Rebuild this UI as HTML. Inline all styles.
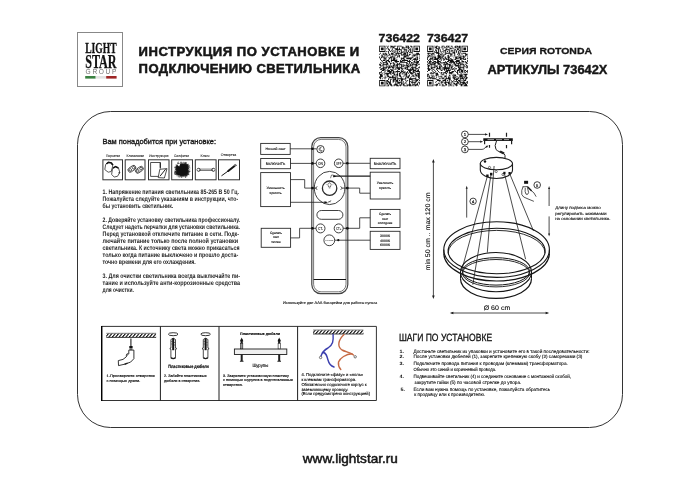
<!DOCTYPE html>
<html><head><meta charset="utf-8">
<style>
html,body{margin:0;padding:0;background:#fff;}
body{width:700px;height:494px;position:relative;overflow:hidden;font-family:"Liberation Sans",sans-serif;color:#1a1a1a;}
svg{position:absolute;left:0;top:0;}

</style></head><body>
<svg width="700" height="494" viewBox="0 0 700 494" font-family="Liberation Sans, sans-serif" style="will-change:transform">
<!-- ===== LOGO ===== -->
<g id="logo">
<rect x="77.5" y="32.5" width="45" height="54" fill="none" stroke="#888" stroke-width="1"/>
<text x="85.2" y="52.5" font-family="Liberation Serif" font-weight="bold" font-size="15.3" textLength="31.4" lengthAdjust="spacingAndGlyphs" fill="#111" stroke="#111" stroke-width="0.3">LIGHT</text>
<text x="85.2" y="67.5" font-family="Liberation Serif" font-weight="bold" font-size="19" textLength="31.4" lengthAdjust="spacingAndGlyphs" fill="#111" stroke="#111" stroke-width="0.25">STAR</text>
<text x="85.6" y="73.8" font-size="6.6" textLength="30.8" lengthAdjust="spacing" fill="#6f6f6f">GROUP</text>
<rect x="85.2" y="76" width="10.5" height="2.6" fill="#3b8242"/>
<rect x="95.7" y="76" width="10.5" height="2.6" fill="#e2e2e2"/>
<rect x="106.2" y="76" width="10.4" height="2.6" fill="#9e2626"/>
</g>
<!-- ===== HEADER ===== -->
<g font-weight="bold" fill="#161616">
<g transform="translate(138.6 0) scale(1.09 1)">
<text x="0" y="56.4" font-size="12" textLength="202.4" lengthAdjust="spacing" stroke="#161616" stroke-width="0.5">ИНСТРУКЦИЯ ПО УСТАНОВКЕ И</text>
<text x="0" y="72.7" font-size="12" textLength="203.3" lengthAdjust="spacing" stroke="#161616" stroke-width="0.5">ПОДКЛЮЧЕНИЮ СВЕТИЛЬНИКА</text>
</g>
<text x="378.6" y="41.5" font-size="11.5" stroke="#161616" stroke-width="0.35" textLength="41.4" lengthAdjust="spacingAndGlyphs">736422</text>
<text x="426.9" y="41.5" font-size="11.5" stroke="#161616" stroke-width="0.35" textLength="41.3" lengthAdjust="spacingAndGlyphs">736427</text>
<text x="500" y="53.6" font-size="9.3" stroke="#161616" stroke-width="0.3" textLength="92" lengthAdjust="spacingAndGlyphs">СЕРИЯ ROTONDA</text>
<text x="487.6" y="73.5" font-size="12.2" stroke="#161616" stroke-width="0.4" textLength="119.8" lengthAdjust="spacingAndGlyphs">АРТИКУЛЫ 73642X</text>
</g>
<svg x="379.1" y="45.6" width="40.8" height="40.8" viewBox="0 0 45 45" preserveAspectRatio="none"><path d="M0 0h7v1h-7zM8 0h1v1h-1zM10 0h1v1h-1zM12 0h3v1h-3zM16 0h3v1h-3zM20 0h5v1h-5zM29 0h4v1h-4zM34 0h2v1h-2zM38 0h7v1h-7zM0 1h1v1h-1zM6 1h1v1h-1zM9 1h1v1h-1zM13 1h4v1h-4zM20 1h1v1h-1zM25 1h2v1h-2zM30 1h1v1h-1zM32 1h1v1h-1zM35 1h2v1h-2zM38 1h1v1h-1zM44 1h1v1h-1zM0 2h1v1h-1zM2 2h3v1h-3zM6 2h1v1h-1zM9 2h1v1h-1zM12 2h1v1h-1zM15 2h2v1h-2zM20 2h1v1h-1zM22 2h1v1h-1zM25 2h9v1h-9zM38 2h1v1h-1zM40 2h3v1h-3zM44 2h1v1h-1zM0 3h1v1h-1zM2 3h3v1h-3zM6 3h1v1h-1zM8 3h1v1h-1zM10 3h1v1h-1zM14 3h1v1h-1zM17 3h4v1h-4zM22 3h1v1h-1zM25 3h1v1h-1zM27 3h1v1h-1zM32 3h1v1h-1zM34 3h1v1h-1zM36 3h1v1h-1zM38 3h1v1h-1zM40 3h3v1h-3zM44 3h1v1h-1zM0 4h1v1h-1zM2 4h3v1h-3zM6 4h1v1h-1zM10 4h2v1h-2zM14 4h1v1h-1zM18 4h7v1h-7zM27 4h4v1h-4zM33 4h2v1h-2zM36 4h1v1h-1zM38 4h1v1h-1zM40 4h3v1h-3zM44 4h1v1h-1zM0 5h1v1h-1zM6 5h1v1h-1zM11 5h1v1h-1zM13 5h1v1h-1zM15 5h1v1h-1zM17 5h1v1h-1zM20 5h1v1h-1zM24 5h1v1h-1zM28 5h1v1h-1zM30 5h1v1h-1zM32 5h1v1h-1zM34 5h1v1h-1zM36 5h1v1h-1zM38 5h1v1h-1zM44 5h1v1h-1zM0 6h7v1h-7zM8 6h1v1h-1zM10 6h1v1h-1zM12 6h1v1h-1zM14 6h1v1h-1zM16 6h1v1h-1zM18 6h1v1h-1zM20 6h1v1h-1zM22 6h1v1h-1zM24 6h1v1h-1zM26 6h1v1h-1zM28 6h1v1h-1zM30 6h1v1h-1zM32 6h1v1h-1zM34 6h1v1h-1zM36 6h1v1h-1zM38 6h7v1h-7zM10 7h1v1h-1zM16 7h2v1h-2zM20 7h1v1h-1zM24 7h3v1h-3zM28 7h1v1h-1zM30 7h2v1h-2zM33 7h4v1h-4zM1 8h1v1h-1zM4 8h1v1h-1zM6 8h2v1h-2zM10 8h1v1h-1zM13 8h3v1h-3zM18 8h7v1h-7zM27 8h3v1h-3zM31 8h1v1h-1zM36 8h1v1h-1zM41 8h3v1h-3zM0 9h1v1h-1zM4 9h2v1h-2zM7 9h2v1h-2zM11 9h1v1h-1zM13 9h3v1h-3zM17 9h1v1h-1zM19 9h1v1h-1zM21 9h1v1h-1zM24 9h1v1h-1zM26 9h4v1h-4zM31 9h1v1h-1zM33 9h2v1h-2zM38 9h1v1h-1zM40 9h5v1h-5zM2 10h2v1h-2zM5 10h4v1h-4zM10 10h3v1h-3zM15 10h1v1h-1zM17 10h3v1h-3zM22 10h1v1h-1zM24 10h3v1h-3zM28 10h1v1h-1zM30 10h2v1h-2zM33 10h1v1h-1zM36 10h5v1h-5zM42 10h1v1h-1zM44 10h1v1h-1zM3 11h1v1h-1zM9 11h1v1h-1zM14 11h1v1h-1zM17 11h1v1h-1zM20 11h3v1h-3zM27 11h6v1h-6zM38 11h2v1h-2zM41 11h1v1h-1zM0 12h1v1h-1zM2 12h5v1h-5zM8 12h1v1h-1zM12 12h5v1h-5zM20 12h1v1h-1zM22 12h1v1h-1zM27 12h3v1h-3zM36 12h2v1h-2zM42 12h1v1h-1zM44 12h1v1h-1zM0 13h1v1h-1zM2 13h1v1h-1zM5 13h1v1h-1zM7 13h1v1h-1zM10 13h4v1h-4zM16 13h2v1h-2zM19 13h1v1h-1zM24 13h1v1h-1zM26 13h2v1h-2zM30 13h7v1h-7zM40 13h3v1h-3zM1 14h1v1h-1zM5 14h3v1h-3zM11 14h1v1h-1zM13 14h1v1h-1zM15 14h3v1h-3zM24 14h4v1h-4zM30 14h6v1h-6zM38 14h3v1h-3zM42 14h1v1h-1zM44 14h1v1h-1zM1 15h1v1h-1zM5 15h1v1h-1zM7 15h1v1h-1zM10 15h1v1h-1zM13 15h1v1h-1zM15 15h3v1h-3zM19 15h1v1h-1zM24 15h1v1h-1zM27 15h2v1h-2zM34 15h1v1h-1zM37 15h6v1h-6zM2 16h1v1h-1zM4 16h3v1h-3zM8 16h3v1h-3zM13 16h7v1h-7zM23 16h1v1h-1zM25 16h7v1h-7zM33 16h1v1h-1zM36 16h1v1h-1zM39 16h1v1h-1zM41 16h1v1h-1zM44 16h1v1h-1zM3 17h1v1h-1zM7 17h2v1h-2zM10 17h2v1h-2zM13 17h1v1h-1zM17 17h5v1h-5zM23 17h3v1h-3zM27 17h1v1h-1zM31 17h4v1h-4zM38 17h2v1h-2zM41 17h3v1h-3zM1 18h1v1h-1zM4 18h5v1h-5zM11 18h1v1h-1zM15 18h1v1h-1zM18 18h2v1h-2zM23 18h8v1h-8zM33 18h1v1h-1zM35 18h2v1h-2zM38 18h6v1h-6zM2 19h1v1h-1zM4 19h1v1h-1zM8 19h2v1h-2zM12 19h2v1h-2zM15 19h2v1h-2zM20 19h1v1h-1zM22 19h1v1h-1zM30 19h2v1h-2zM33 19h1v1h-1zM35 19h1v1h-1zM37 19h1v1h-1zM41 19h2v1h-2zM0 20h2v1h-2zM4 20h6v1h-6zM12 20h1v1h-1zM16 20h2v1h-2zM19 20h6v1h-6zM26 20h1v1h-1zM30 20h1v1h-1zM32 20h1v1h-1zM34 20h1v1h-1zM36 20h6v1h-6zM43 20h2v1h-2zM0 21h2v1h-2zM3 21h2v1h-2zM8 21h1v1h-1zM10 21h1v1h-1zM15 21h2v1h-2zM19 21h2v1h-2zM24 21h2v1h-2zM27 21h2v1h-2zM30 21h2v1h-2zM33 21h4v1h-4zM40 21h3v1h-3zM1 22h2v1h-2zM4 22h1v1h-1zM6 22h1v1h-1zM8 22h1v1h-1zM11 22h3v1h-3zM15 22h6v1h-6zM22 22h1v1h-1zM24 22h1v1h-1zM26 22h2v1h-2zM29 22h4v1h-4zM34 22h1v1h-1zM36 22h1v1h-1zM38 22h1v1h-1zM40 22h2v1h-2zM4 23h1v1h-1zM8 23h4v1h-4zM13 23h3v1h-3zM20 23h1v1h-1zM24 23h3v1h-3zM31 23h3v1h-3zM36 23h1v1h-1zM40 23h1v1h-1zM44 23h1v1h-1zM0 24h2v1h-2zM4 24h5v1h-5zM10 24h3v1h-3zM14 24h3v1h-3zM18 24h7v1h-7zM28 24h4v1h-4zM35 24h6v1h-6zM43 24h2v1h-2zM2 25h4v1h-4zM7 25h1v1h-1zM10 25h1v1h-1zM15 25h1v1h-1zM18 25h1v1h-1zM20 25h3v1h-3zM24 25h3v1h-3zM28 25h2v1h-2zM31 25h1v1h-1zM34 25h1v1h-1zM36 25h2v1h-2zM40 25h3v1h-3zM1 26h2v1h-2zM4 26h3v1h-3zM9 26h1v1h-1zM12 26h3v1h-3zM16 26h1v1h-1zM18 26h1v1h-1zM21 26h2v1h-2zM25 26h1v1h-1zM30 26h9v1h-9zM40 26h1v1h-1zM43 26h1v1h-1zM3 27h3v1h-3zM7 27h1v1h-1zM9 27h3v1h-3zM13 27h3v1h-3zM20 27h1v1h-1zM24 27h1v1h-1zM26 27h1v1h-1zM32 27h4v1h-4zM37 27h4v1h-4zM42 27h2v1h-2zM2 28h1v1h-1zM6 28h1v1h-1zM9 28h5v1h-5zM15 28h2v1h-2zM18 28h5v1h-5zM24 28h3v1h-3zM28 28h1v1h-1zM31 28h1v1h-1zM33 28h2v1h-2zM37 28h2v1h-2zM40 28h5v1h-5zM0 29h3v1h-3zM5 29h1v1h-1zM11 29h3v1h-3zM15 29h2v1h-2zM18 29h1v1h-1zM20 29h1v1h-1zM23 29h2v1h-2zM26 29h3v1h-3zM30 29h2v1h-2zM33 29h3v1h-3zM37 29h3v1h-3zM44 29h1v1h-1zM0 30h1v1h-1zM3 30h1v1h-1zM6 30h7v1h-7zM14 30h3v1h-3zM20 30h1v1h-1zM22 30h2v1h-2zM25 30h1v1h-1zM27 30h1v1h-1zM29 30h2v1h-2zM32 30h1v1h-1zM34 30h4v1h-4zM40 30h1v1h-1zM42 30h3v1h-3zM0 31h3v1h-3zM5 31h1v1h-1zM8 31h3v1h-3zM12 31h2v1h-2zM16 31h2v1h-2zM19 31h2v1h-2zM22 31h1v1h-1zM25 31h1v1h-1zM27 31h1v1h-1zM29 31h2v1h-2zM35 31h2v1h-2zM39 31h2v1h-2zM42 31h3v1h-3zM1 32h3v1h-3zM6 32h1v1h-1zM8 32h2v1h-2zM16 32h2v1h-2zM19 32h2v1h-2zM22 32h2v1h-2zM28 32h3v1h-3zM33 32h1v1h-1zM37 32h1v1h-1zM40 32h2v1h-2zM43 32h2v1h-2zM1 33h3v1h-3zM9 33h2v1h-2zM14 33h2v1h-2zM18 33h1v1h-1zM20 33h1v1h-1zM22 33h2v1h-2zM27 33h1v1h-1zM30 33h1v1h-1zM32 33h2v1h-2zM36 33h3v1h-3zM40 33h5v1h-5zM0 34h4v1h-4zM6 34h2v1h-2zM9 34h4v1h-4zM14 34h2v1h-2zM17 34h1v1h-1zM19 34h1v1h-1zM23 34h2v1h-2zM26 34h1v1h-1zM29 34h4v1h-4zM35 34h1v1h-1zM38 34h1v1h-1zM43 34h2v1h-2zM0 35h2v1h-2zM5 35h1v1h-1zM7 35h1v1h-1zM11 35h8v1h-8zM20 35h1v1h-1zM24 35h1v1h-1zM29 35h1v1h-1zM31 35h2v1h-2zM34 35h1v1h-1zM40 35h1v1h-1zM43 35h2v1h-2zM1 36h1v1h-1zM3 36h1v1h-1zM6 36h1v1h-1zM10 36h1v1h-1zM15 36h1v1h-1zM17 36h2v1h-2zM20 36h7v1h-7zM28 36h2v1h-2zM33 36h8v1h-8zM44 36h1v1h-1zM10 37h1v1h-1zM12 37h2v1h-2zM15 37h4v1h-4zM20 37h1v1h-1zM24 37h3v1h-3zM28 37h1v1h-1zM33 37h4v1h-4zM40 37h4v1h-4zM0 38h7v1h-7zM8 38h2v1h-2zM12 38h1v1h-1zM15 38h2v1h-2zM18 38h3v1h-3zM22 38h1v1h-1zM24 38h2v1h-2zM29 38h1v1h-1zM31 38h1v1h-1zM33 38h1v1h-1zM36 38h1v1h-1zM38 38h1v1h-1zM40 38h3v1h-3zM44 38h1v1h-1zM0 39h1v1h-1zM6 39h1v1h-1zM8 39h3v1h-3zM12 39h1v1h-1zM15 39h2v1h-2zM18 39h3v1h-3zM24 39h1v1h-1zM26 39h1v1h-1zM30 39h1v1h-1zM33 39h2v1h-2zM36 39h1v1h-1zM40 39h2v1h-2zM0 40h1v1h-1zM2 40h3v1h-3zM6 40h1v1h-1zM8 40h1v1h-1zM10 40h3v1h-3zM15 40h1v1h-1zM18 40h1v1h-1zM20 40h5v1h-5zM26 40h1v1h-1zM29 40h1v1h-1zM33 40h1v1h-1zM35 40h6v1h-6zM43 40h2v1h-2zM0 41h1v1h-1zM2 41h3v1h-3zM6 41h1v1h-1zM8 41h2v1h-2zM11 41h2v1h-2zM18 41h1v1h-1zM20 41h3v1h-3zM24 41h2v1h-2zM27 41h1v1h-1zM29 41h1v1h-1zM33 41h1v1h-1zM36 41h1v1h-1zM39 41h1v1h-1zM42 41h1v1h-1zM44 41h1v1h-1zM0 42h1v1h-1zM2 42h3v1h-3zM6 42h1v1h-1zM8 42h2v1h-2zM11 42h3v1h-3zM17 42h3v1h-3zM24 42h1v1h-1zM26 42h2v1h-2zM30 42h1v1h-1zM33 42h2v1h-2zM37 42h3v1h-3zM41 42h2v1h-2zM44 42h1v1h-1zM0 43h1v1h-1zM6 43h1v1h-1zM10 43h1v1h-1zM12 43h2v1h-2zM16 43h5v1h-5zM22 43h3v1h-3zM26 43h2v1h-2zM31 43h4v1h-4zM36 43h2v1h-2zM39 43h4v1h-4zM0 44h7v1h-7zM8 44h3v1h-3zM13 44h2v1h-2zM16 44h1v1h-1zM19 44h3v1h-3zM23 44h1v1h-1zM27 44h5v1h-5zM33 44h3v1h-3zM37 44h1v1h-1zM39 44h2v1h-2zM43 44h1v1h-1z" fill="#111"/></svg>
<svg x="427.1" y="45.6" width="40.8" height="40.8" viewBox="0 0 45 45" preserveAspectRatio="none"><path d="M0 0h7v1h-7zM8 0h1v1h-1zM10 0h2v1h-2zM16 0h3v1h-3zM21 0h4v1h-4zM26 0h2v1h-2zM31 0h3v1h-3zM35 0h2v1h-2zM38 0h7v1h-7zM0 1h1v1h-1zM6 1h1v1h-1zM9 1h2v1h-2zM12 1h2v1h-2zM16 1h1v1h-1zM19 1h1v1h-1zM21 1h1v1h-1zM23 1h1v1h-1zM27 1h1v1h-1zM30 1h2v1h-2zM33 1h4v1h-4zM38 1h1v1h-1zM44 1h1v1h-1zM0 2h1v1h-1zM2 2h3v1h-3zM6 2h1v1h-1zM8 2h3v1h-3zM13 2h1v1h-1zM15 2h1v1h-1zM17 2h1v1h-1zM19 2h2v1h-2zM22 2h1v1h-1zM24 2h2v1h-2zM28 2h1v1h-1zM31 2h2v1h-2zM35 2h2v1h-2zM38 2h1v1h-1zM40 2h3v1h-3zM44 2h1v1h-1zM0 3h1v1h-1zM2 3h3v1h-3zM6 3h1v1h-1zM10 3h4v1h-4zM17 3h1v1h-1zM21 3h1v1h-1zM25 3h3v1h-3zM29 3h1v1h-1zM33 3h2v1h-2zM36 3h1v1h-1zM38 3h1v1h-1zM40 3h3v1h-3zM44 3h1v1h-1zM0 4h1v1h-1zM2 4h3v1h-3zM6 4h1v1h-1zM9 4h1v1h-1zM12 4h1v1h-1zM14 4h1v1h-1zM17 4h1v1h-1zM20 4h5v1h-5zM30 4h2v1h-2zM33 4h2v1h-2zM36 4h1v1h-1zM38 4h1v1h-1zM40 4h3v1h-3zM44 4h1v1h-1zM0 5h1v1h-1zM6 5h1v1h-1zM9 5h2v1h-2zM12 5h1v1h-1zM14 5h1v1h-1zM18 5h3v1h-3zM24 5h1v1h-1zM26 5h3v1h-3zM30 5h1v1h-1zM32 5h1v1h-1zM35 5h2v1h-2zM38 5h1v1h-1zM44 5h1v1h-1zM0 6h7v1h-7zM8 6h1v1h-1zM10 6h1v1h-1zM12 6h1v1h-1zM14 6h1v1h-1zM16 6h1v1h-1zM18 6h1v1h-1zM20 6h1v1h-1zM22 6h1v1h-1zM24 6h1v1h-1zM26 6h1v1h-1zM28 6h1v1h-1zM30 6h1v1h-1zM32 6h1v1h-1zM34 6h1v1h-1zM36 6h1v1h-1zM38 6h7v1h-7zM8 7h5v1h-5zM15 7h1v1h-1zM18 7h1v1h-1zM20 7h1v1h-1zM24 7h1v1h-1zM28 7h3v1h-3zM32 7h1v1h-1zM34 7h1v1h-1zM36 7h1v1h-1zM0 8h4v1h-4zM5 8h3v1h-3zM10 8h4v1h-4zM16 8h1v1h-1zM20 8h6v1h-6zM27 8h1v1h-1zM29 8h2v1h-2zM34 8h2v1h-2zM37 8h1v1h-1zM39 8h4v1h-4zM1 9h1v1h-1zM4 9h2v1h-2zM7 9h1v1h-1zM12 9h1v1h-1zM14 9h2v1h-2zM17 9h1v1h-1zM19 9h2v1h-2zM25 9h3v1h-3zM30 9h1v1h-1zM33 9h1v1h-1zM35 9h1v1h-1zM38 9h1v1h-1zM42 9h3v1h-3zM0 10h1v1h-1zM2 10h1v1h-1zM5 10h2v1h-2zM8 10h1v1h-1zM12 10h2v1h-2zM15 10h2v1h-2zM18 10h1v1h-1zM23 10h1v1h-1zM26 10h1v1h-1zM30 10h1v1h-1zM34 10h3v1h-3zM42 10h2v1h-2zM1 11h4v1h-4zM11 11h4v1h-4zM17 11h2v1h-2zM22 11h2v1h-2zM25 11h2v1h-2zM28 11h1v1h-1zM30 11h1v1h-1zM37 11h1v1h-1zM39 11h2v1h-2zM42 11h1v1h-1zM44 11h1v1h-1zM0 12h2v1h-2zM5 12h5v1h-5zM12 12h6v1h-6zM20 12h1v1h-1zM23 12h2v1h-2zM31 12h7v1h-7zM39 12h3v1h-3zM0 13h1v1h-1zM3 13h1v1h-1zM5 13h1v1h-1zM8 13h2v1h-2zM11 13h4v1h-4zM16 13h1v1h-1zM19 13h2v1h-2zM22 13h3v1h-3zM29 13h1v1h-1zM31 13h2v1h-2zM35 13h3v1h-3zM40 13h1v1h-1zM44 13h1v1h-1zM0 14h1v1h-1zM3 14h4v1h-4zM8 14h5v1h-5zM14 14h2v1h-2zM17 14h2v1h-2zM20 14h2v1h-2zM23 14h1v1h-1zM25 14h2v1h-2zM31 14h4v1h-4zM36 14h5v1h-5zM42 14h1v1h-1zM44 14h1v1h-1zM0 15h1v1h-1zM2 15h2v1h-2zM5 15h1v1h-1zM7 15h5v1h-5zM13 15h1v1h-1zM15 15h1v1h-1zM18 15h2v1h-2zM21 15h4v1h-4zM26 15h3v1h-3zM30 15h2v1h-2zM36 15h2v1h-2zM40 15h3v1h-3zM1 16h1v1h-1zM3 16h1v1h-1zM6 16h1v1h-1zM11 16h2v1h-2zM15 16h1v1h-1zM18 16h1v1h-1zM23 16h6v1h-6zM32 16h4v1h-4zM38 16h1v1h-1zM44 16h1v1h-1zM0 17h1v1h-1zM2 17h3v1h-3zM7 17h3v1h-3zM11 17h4v1h-4zM20 17h1v1h-1zM22 17h2v1h-2zM25 17h5v1h-5zM31 17h5v1h-5zM38 17h3v1h-3zM42 17h1v1h-1zM44 17h1v1h-1zM0 18h1v1h-1zM2 18h2v1h-2zM5 18h3v1h-3zM9 18h4v1h-4zM14 18h2v1h-2zM17 18h5v1h-5zM24 18h7v1h-7zM32 18h1v1h-1zM35 18h2v1h-2zM38 18h1v1h-1zM40 18h1v1h-1zM42 18h2v1h-2zM1 19h3v1h-3zM5 19h1v1h-1zM7 19h3v1h-3zM11 19h3v1h-3zM15 19h1v1h-1zM17 19h1v1h-1zM19 19h1v1h-1zM21 19h2v1h-2zM26 19h1v1h-1zM29 19h2v1h-2zM32 19h5v1h-5zM38 19h1v1h-1zM43 19h2v1h-2zM0 20h1v1h-1zM3 20h6v1h-6zM12 20h3v1h-3zM18 20h8v1h-8zM28 20h1v1h-1zM30 20h2v1h-2zM34 20h1v1h-1zM36 20h5v1h-5zM42 20h1v1h-1zM0 21h3v1h-3zM4 21h1v1h-1zM8 21h2v1h-2zM11 21h1v1h-1zM14 21h2v1h-2zM18 21h1v1h-1zM20 21h1v1h-1zM24 21h3v1h-3zM30 21h5v1h-5zM36 21h1v1h-1zM40 21h1v1h-1zM43 21h1v1h-1zM1 22h2v1h-2zM4 22h1v1h-1zM6 22h1v1h-1zM8 22h1v1h-1zM10 22h1v1h-1zM13 22h1v1h-1zM15 22h1v1h-1zM19 22h2v1h-2zM22 22h1v1h-1zM24 22h2v1h-2zM27 22h2v1h-2zM31 22h6v1h-6zM38 22h1v1h-1zM40 22h2v1h-2zM43 22h2v1h-2zM0 23h2v1h-2zM4 23h1v1h-1zM8 23h4v1h-4zM13 23h4v1h-4zM19 23h2v1h-2zM24 23h1v1h-1zM26 23h2v1h-2zM34 23h1v1h-1zM36 23h1v1h-1zM40 23h1v1h-1zM42 23h1v1h-1zM44 23h1v1h-1zM1 24h1v1h-1zM4 24h5v1h-5zM11 24h1v1h-1zM13 24h2v1h-2zM17 24h8v1h-8zM26 24h2v1h-2zM30 24h1v1h-1zM34 24h7v1h-7zM43 24h2v1h-2zM0 25h3v1h-3zM4 25h2v1h-2zM10 25h5v1h-5zM16 25h1v1h-1zM18 25h7v1h-7zM26 25h1v1h-1zM28 25h2v1h-2zM31 25h2v1h-2zM35 25h2v1h-2zM40 25h1v1h-1zM1 26h3v1h-3zM6 26h2v1h-2zM10 26h1v1h-1zM14 26h1v1h-1zM16 26h1v1h-1zM18 26h2v1h-2zM21 26h1v1h-1zM23 26h1v1h-1zM25 26h1v1h-1zM27 26h2v1h-2zM30 26h1v1h-1zM34 26h5v1h-5zM40 26h1v1h-1zM1 27h2v1h-2zM5 27h1v1h-1zM8 27h1v1h-1zM11 27h1v1h-1zM15 27h2v1h-2zM19 27h1v1h-1zM21 27h5v1h-5zM30 27h1v1h-1zM33 27h3v1h-3zM37 27h3v1h-3zM41 27h2v1h-2zM44 27h1v1h-1zM0 28h1v1h-1zM6 28h1v1h-1zM9 28h1v1h-1zM12 28h1v1h-1zM20 28h3v1h-3zM24 28h1v1h-1zM27 28h3v1h-3zM31 28h1v1h-1zM33 28h1v1h-1zM35 28h1v1h-1zM37 28h3v1h-3zM41 28h1v1h-1zM43 28h2v1h-2zM4 29h1v1h-1zM7 29h2v1h-2zM13 29h1v1h-1zM15 29h2v1h-2zM18 29h3v1h-3zM22 29h1v1h-1zM24 29h5v1h-5zM32 29h2v1h-2zM35 29h2v1h-2zM38 29h2v1h-2zM41 29h2v1h-2zM44 29h1v1h-1zM3 30h5v1h-5zM9 30h3v1h-3zM15 30h1v1h-1zM18 30h1v1h-1zM20 30h2v1h-2zM24 30h4v1h-4zM33 30h1v1h-1zM37 30h1v1h-1zM0 31h2v1h-2zM10 31h2v1h-2zM15 31h4v1h-4zM21 31h1v1h-1zM26 31h1v1h-1zM29 31h1v1h-1zM33 31h2v1h-2zM37 31h1v1h-1zM39 31h6v1h-6zM0 32h2v1h-2zM4 32h1v1h-1zM6 32h1v1h-1zM9 32h4v1h-4zM17 32h1v1h-1zM24 32h1v1h-1zM28 32h1v1h-1zM30 32h2v1h-2zM35 32h4v1h-4zM41 32h3v1h-3zM0 33h1v1h-1zM2 33h1v1h-1zM5 33h1v1h-1zM7 33h1v1h-1zM10 33h1v1h-1zM15 33h1v1h-1zM19 33h3v1h-3zM24 33h2v1h-2zM28 33h4v1h-4zM36 33h4v1h-4zM42 33h1v1h-1zM0 34h3v1h-3zM5 34h2v1h-2zM8 34h1v1h-1zM12 34h5v1h-5zM19 34h2v1h-2zM23 34h1v1h-1zM29 34h1v1h-1zM32 34h2v1h-2zM35 34h4v1h-4zM40 34h4v1h-4zM2 35h4v1h-4zM7 35h1v1h-1zM10 35h1v1h-1zM16 35h1v1h-1zM18 35h1v1h-1zM21 35h1v1h-1zM23 35h3v1h-3zM28 35h4v1h-4zM34 35h1v1h-1zM36 35h1v1h-1zM38 35h2v1h-2zM41 35h1v1h-1zM43 35h2v1h-2zM0 36h2v1h-2zM3 36h1v1h-1zM5 36h5v1h-5zM13 36h2v1h-2zM16 36h3v1h-3zM20 36h6v1h-6zM29 36h2v1h-2zM32 36h3v1h-3zM36 36h5v1h-5zM42 36h2v1h-2zM10 37h3v1h-3zM19 37h2v1h-2zM24 37h2v1h-2zM30 37h4v1h-4zM36 37h1v1h-1zM40 37h1v1h-1zM42 37h1v1h-1zM0 38h7v1h-7zM11 38h4v1h-4zM17 38h4v1h-4zM22 38h1v1h-1zM24 38h1v1h-1zM26 38h1v1h-1zM29 38h1v1h-1zM32 38h1v1h-1zM34 38h3v1h-3zM38 38h1v1h-1zM40 38h3v1h-3zM0 39h1v1h-1zM6 39h1v1h-1zM10 39h1v1h-1zM13 39h1v1h-1zM15 39h1v1h-1zM17 39h1v1h-1zM20 39h1v1h-1zM24 39h1v1h-1zM27 39h2v1h-2zM30 39h4v1h-4zM35 39h2v1h-2zM40 39h1v1h-1zM44 39h1v1h-1zM0 40h1v1h-1zM2 40h3v1h-3zM6 40h1v1h-1zM9 40h1v1h-1zM15 40h3v1h-3zM19 40h6v1h-6zM26 40h1v1h-1zM28 40h1v1h-1zM33 40h2v1h-2zM36 40h6v1h-6zM43 40h2v1h-2zM0 41h1v1h-1zM2 41h3v1h-3zM6 41h1v1h-1zM12 41h2v1h-2zM15 41h1v1h-1zM19 41h2v1h-2zM23 41h2v1h-2zM26 41h1v1h-1zM29 41h2v1h-2zM32 41h3v1h-3zM36 41h1v1h-1zM39 41h4v1h-4zM44 41h1v1h-1zM0 42h1v1h-1zM2 42h3v1h-3zM6 42h1v1h-1zM10 42h2v1h-2zM16 42h2v1h-2zM20 42h2v1h-2zM23 42h3v1h-3zM27 42h1v1h-1zM29 42h4v1h-4zM35 42h6v1h-6zM42 42h2v1h-2zM0 43h1v1h-1zM6 43h1v1h-1zM8 43h4v1h-4zM13 43h2v1h-2zM17 43h1v1h-1zM20 43h2v1h-2zM25 43h2v1h-2zM31 43h3v1h-3zM37 43h2v1h-2zM41 43h3v1h-3zM0 44h7v1h-7zM10 44h1v1h-1zM16 44h4v1h-4zM23 44h2v1h-2zM26 44h1v1h-1zM28 44h2v1h-2zM32 44h1v1h-1zM37 44h2v1h-2zM40 44h5v1h-5z" fill="#111"/></svg>

<!-- ===== MAIN BOX ===== -->
<rect x="77.5" y="111.5" width="545" height="316" rx="33" ry="33" fill="none" stroke="#333" stroke-width="1"/>

<!-- ===== TOOLS ===== -->
<g fill="#1a1a1a">
<text x="102.5" y="143.8" font-size="7.4" textLength="113.5" lengthAdjust="spacingAndGlyphs" stroke="#1a1a1a" stroke-width="0.35">Вам понадобится при установке:</text>
<g font-size="3.6" fill="#333" stroke="#333" stroke-width="0.1" text-rendering="geometricPrecision">
<text x="106" y="156.6" textLength="14" lengthAdjust="spacingAndGlyphs">Перчатки</text>
<text x="126.5" y="156.6" textLength="17.5" lengthAdjust="spacingAndGlyphs">Клеммники</text>
<text x="149" y="157" textLength="19.5" lengthAdjust="spacingAndGlyphs">Инструкция</text>
<text x="174" y="156.6" textLength="15" lengthAdjust="spacingAndGlyphs">Салфетки</text>
<text x="200.5" y="156.6" textLength="9" lengthAdjust="spacingAndGlyphs">Ключ</text>
<text x="220.8" y="156.2" textLength="15.5" lengthAdjust="spacingAndGlyphs">Отвертка</text>
</g>
<g fill="none" stroke="#333" stroke-width="1">
<rect x="102.9" y="159.8" width="19.6" height="20"/>
<rect x="125.2" y="159.8" width="19.8" height="20"/>
<rect x="148.5" y="159.8" width="20.5" height="20"/>
<rect x="171.7" y="159.8" width="20.8" height="20"/>
<rect x="195.3" y="159.8" width="20.8" height="20"/>
<rect x="218.5" y="159.8" width="21" height="20"/>
</g>
<!-- gloves -->
<g fill="#fff" stroke="#222" stroke-width="0.75" stroke-linejoin="miter">
<path d="M105.6 164.6 L104.8 169.6 L108.2 172.2 L111.2 171.5 L112.8 165.8 L110.5 162.8 L107.2 162.8 Z"/>
<path d="M106.4 164 L108.4 162.2 L111.4 162.8 L113 165.2" fill="none" stroke="#111" stroke-width="1.5"/>
<path d="M112.6 168.3 L111.6 174.5 L114.2 177 L117.5 176.3 L119.8 172.5 L118.5 168 L115.5 166.6 Z"/>
<path d="M113 168.2 L115.5 166.6 L118.4 168" fill="none" stroke="#111" stroke-width="1.4"/>
<circle cx="119.2" cy="172.8" r="0.7" fill="#111" stroke="none"/>
</g>
<!-- terminal blocks -->
<g fill="#fff" stroke="#222" stroke-width="0.75">
<g transform="rotate(-35 131.9 168.8)">
<rect x="127.6" y="166.6" width="8.6" height="4.4" rx="2.2"/>
<circle cx="129.9" cy="168.8" r="1.3"/><circle cx="133.9" cy="168.8" r="1.3"/>
</g>
<g transform="rotate(-35 139.4 169.8)">
<rect x="135.1" y="167.6" width="8.6" height="4.4" rx="2.2"/>
<circle cx="137.4" cy="169.8" r="1.3"/><circle cx="141.4" cy="169.8" r="1.3"/>
</g>
</g>
<!-- instruction -->
<g fill="none" stroke="#222" stroke-width="0.8">
<path d="M160.3 167.5 V162.5 H150.6 V176.4 H159"/>
<path d="M160.3 162.5 V168.5" stroke-width="1.1"/>
<path d="M158.2 177.6 L159.8 169.3 L167 168.6 L164.4 178 Z" fill="#fff"/>
<path d="M160 176.2 L165.6 169.2" stroke-width="1"/>
</g>
<!-- napkins blob -->
<path d="M188.4 169.8 L188.5 171.0 L188.7 172.5 L188.1 173.7 L187.4 175.0 L186.2 175.8 L184.6 175.7 L183.4 176.0 L182.2 176.1 L180.9 176.3 L179.8 175.6 L178.4 175.6 L177.3 174.7 L176.0 173.9 L175.9 172.4 L176.5 170.9 L175.5 169.8 L175.5 168.5 L175.9 167.2 L176.2 165.8 L177.2 164.8 L178.5 164.3 L179.6 163.6 L181.1 164.0 L182.2 163.9 L183.4 163.9 L184.6 164.1 L186.1 163.9 L187.4 164.6 L188.4 165.7 L188.4 167.2 L188.5 168.5Z" fill="#111"/>
<path d="M176.7 169.8L174.6 170.0M181.2 175.3L178.1 176.9M185.6 164.5L185.8 162.2M182.9 175.3L185.1 176.2M182.8 164.3L184.6 163.1M177.3 174.1L174.1 173.9M187.7 169.8L188.7 171.8M176.7 170.8L174.3 171.9M187.6 172.5L188.6 174.7M181.5 175.3L182.2 176.5M187.7 168.5L189.1 166.1M182.3 175.3L184.4 176.1M183.9 164.3L184.5 163.2M176.7 171.7L175.2 171.0M186.6 174.6L189.5 174.3M176.8 172.7L176.3 174.4M187.7 168.8L189.7 167.3M187.1 165.5L187.7 164.2M186.1 164.7L185.3 161.9M187.7 169.4L188.9 168.2M183.0 164.3L182.2 162.7M187.6 172.5L188.4 173.4M182.4 175.3L183.2 177.2M176.7 171.5L174.3 172.3M176.8 167.1L174.0 167.7M185.8 175.0L185.5 178.0M182.2 175.3L181.1 176.5M187.7 167.7L189.4 169.4M187.0 165.4L188.1 163.7M187.3 173.7L186.4 176.0M182.6 175.3L184.0 177.2M184.9 164.4L184.7 162.2M184.9 175.2L187.9 175.7M183.0 175.3L181.4 177.2M177.3 165.5L178.0 163.1M183.8 175.3L185.1 175.9M176.7 171.7L176.4 173.5M177.8 174.6L178.2 177.3M178.0 174.8L174.5 174.3M178.7 164.5L178.0 162.5M186.3 174.8L188.6 173.7M187.5 166.4L190.4 167.8M187.7 170.5L189.7 170.7M181.5 164.3L183.8 162.9M187.6 172.6L188.6 174.5M187.4 166.0L189.8 165.8M183.7 164.3L183.6 161.8M179.8 164.3L181.0 161.5M176.8 172.9L174.1 172.0M176.8 167.1L174.7 166.9M176.8 166.7L174.3 168.0M178.0 164.8L178.4 161.5M181.4 164.3L182.4 162.6M176.8 166.8L176.4 164.5M187.6 172.9L190.4 171.4M177.0 166.0L174.8 166.3M180.4 164.3L180.4 162.4M187.6 166.9L187.2 164.2M180.4 175.3L181.3 177.6M185.2 175.2L185.5 177.7M176.7 171.9L174.9 173.7M179.1 164.4L178.1 163.5M184.2 164.3L187.0 163.0M177.3 174.1L176.7 176.2M186.5 174.7L186.0 177.2M185.9 164.6L189.1 164.7M181.3 175.3L181.3 176.6M181.3 175.3L181.5 176.7M177.6 165.2L175.6 164.7M185.5 164.5L186.6 162.2M187.6 172.5L187.5 174.5M187.7 171.3L189.6 172.2M180.1 175.3L181.9 177.9M186.5 174.7L189.3 173.9M185.1 164.4L184.1 162.5M187.7 171.5L189.7 171.8M177.7 165.0L177.8 162.4M187.7 168.3L189.1 166.3M176.7 170.7L176.2 173.1M176.7 170.8L175.1 172.8M181.4 175.3L180.2 176.6M176.7 169.1L175.0 167.5M177.1 173.8L174.1 173.1M187.5 173.0L188.9 175.4M186.7 174.6L187.3 176.3M187.5 166.4L189.0 165.9M186.9 165.3L190.1 166.0M176.7 171.1L175.2 173.0M181.2 164.3L181.6 161.9M181.1 164.3L182.7 162.9M187.7 169.1L190.3 169.0M183.6 164.3L185.9 163.6M186.2 164.7L185.1 162.3M176.7 171.9L174.6 171.2M176.7 170.2L175.7 168.9M187.7 172.1L190.3 171.2M179.0 175.1L179.8 177.9M186.0 175.0L186.0 177.1M185.6 164.5L188.6 164.4M176.7 170.1L174.6 172.4M183.2 175.3L184.6 176.8M181.5 164.3L181.3 162.3M185.7 164.5L185.8 162.4M177.4 174.2L174.3 173.8M183.7 175.3L181.7 177.8M176.7 169.0L174.7 170.2M176.7 168.5L175.1 167.6M187.7 170.8L190.2 171.3M177.0 173.5L175.0 174.6M176.7 170.1L175.1 172.5" stroke="#222" stroke-width="0.4" fill="none"/>
<path d="M176.8 164.6 l3.6 -1.2 l-1.2 3.2 z" fill="#fff"/>
<!-- wrench -->
<g fill="none" stroke="#222">
<path d="M199.8 169.1 H212.2 M199.8 170.5 H212.2" stroke-width="0.6"/>
<circle cx="198.6" cy="169.8" r="1.5" stroke-width="1"/>
<circle cx="213.4" cy="169.8" r="1.5" stroke-width="1"/>
<path d="M197 169.8 h1.2 M213.8 169.8 h1.4" stroke="#fff" stroke-width="0.8"/>
</g>
<!-- screwdriver -->
<g stroke="#151515" fill="none" stroke-linecap="round">
<path d="M221.8 175.6 L229 170.4" stroke-width="1"/>
<path d="M228.2 171 L234.2 166.2" stroke-width="2"/>
<circle cx="235.2" cy="165.3" r="0.9" stroke-width="0.6" fill="#fff"/>
</g>
</g>
<!-- paragraph text -->
<g font-size="6.5" font-weight="bold" fill="#1e1e1e" text-rendering="geometricPrecision">
<text x="102.6" y="193.6" textLength="136.4" lengthAdjust="spacingAndGlyphs">1. Напряжение питания светильника 85-265 В 50 Гц.</text>
<text x="102.6" y="200.7" textLength="135.6" lengthAdjust="spacingAndGlyphs">Пожалуйста следуйте указаниям в  инструкции, что-</text>
<text x="102.6" y="207.8" textLength="70.6" lengthAdjust="spacingAndGlyphs">бы установить светильник.</text>
<text x="102.6" y="221.8" textLength="137.4" lengthAdjust="spacingAndGlyphs">2. Доверяйте установку светильника профессионалу.</text>
<text x="102.6" y="228.8" textLength="137.4" lengthAdjust="spacingAndGlyphs">Следует надеть перчатки для установки светильника.</text>
<text x="102.6" y="235.8" textLength="136.4" lengthAdjust="spacingAndGlyphs">Перед установкой отключите питание в сети. Подк-</text>
<text x="102.6" y="242.8" textLength="135.6" lengthAdjust="spacingAndGlyphs">лючайте питание только  после полной установки</text>
<text x="102.6" y="249.8" textLength="136.9" lengthAdjust="spacingAndGlyphs">светильника. К источнику света можно прикасаться</text>
<text x="102.6" y="256.8" textLength="135.6" lengthAdjust="spacingAndGlyphs">только когда питание выключено  и прошло доста-</text>
<text x="102.6" y="263.8" textLength="93.2" lengthAdjust="spacingAndGlyphs">точно времени для его  охлаждения.</text>
<text x="102.6" y="278.3" textLength="137.4" lengthAdjust="spacingAndGlyphs">3. Для очистки светильника всегда выключайте пи-</text>
<text x="102.6" y="285.3" textLength="137.4" lengthAdjust="spacingAndGlyphs">тание и используйте анти-коррозионные средства</text>
<text x="102.6" y="292.4" textLength="31.2" lengthAdjust="spacingAndGlyphs">для очистки.</text>
</g>

<!-- ===== REMOTE ===== -->
<g fill="none" stroke="#2a2a2a">
<rect x="311.8" y="137.6" width="36" height="156" rx="9" ry="9" stroke-width="1.2" stroke="#444"/>
<rect x="313.6" y="139.4" width="32.4" height="152.4" rx="7.5" ry="7.5" stroke-width="0.8" stroke="#555"/>
<line x1="313.6" y1="279.5" x2="346" y2="279.5" stroke-width="1" stroke="#111"/>
<g stroke-width="0.9">
<circle cx="320.5" cy="149.2" r="3.7"/>
<circle cx="320.5" cy="163.3" r="4.3"/>
<circle cx="338.7" cy="163.3" r="4.3"/>
<ellipse cx="329.6" cy="188" rx="15.3" ry="16.6" stroke-width="0.9"/>
<circle cx="329.6" cy="188.2" r="7.2" stroke-width="1.3"/>
<rect x="316.9" y="210.5" width="26" height="8.8" rx="4.4" ry="4.4"/>
<circle cx="320.5" cy="228.4" r="4.5"/>
<circle cx="338.7" cy="228.4" r="4.5"/>
<circle cx="329.3" cy="240.3" r="5.4"/>
</g>
</g>
<g fill="#2a2a2a" stroke="none">
<path d="M321.4 147.2 a2 2 0 1 0 0.9 3.6 a1.6 1.6 0 1 1 -0.9 -3.6 z" fill="none" stroke="#2a2a2a" stroke-width="0.6"/>
<text x="320.5" y="164.6" font-size="3.5" font-weight="bold" text-anchor="middle" textLength="5" lengthAdjust="spacingAndGlyphs">ON</text>
<text x="338.7" y="164.6" font-size="3.5" font-weight="bold" text-anchor="middle" textLength="5.4" lengthAdjust="spacingAndGlyphs">OFF</text>
<text x="320.5" y="229.7" font-size="3.5" font-weight="bold" text-anchor="middle" textLength="5.2" lengthAdjust="spacingAndGlyphs">CT-</text>
<text x="338.7" y="229.7" font-size="3.5" font-weight="bold" text-anchor="middle" textLength="5.4" lengthAdjust="spacingAndGlyphs">CT+</text>
<text x="329.3" y="241.3" font-size="2.4" text-anchor="middle" textLength="8" lengthAdjust="spacingAndGlyphs">Режим</text>
</g>
<g fill="none" stroke="#2a2a2a" stroke-width="0.8">
<path d="M317.2 186.3 l-1.5 1.8 l1.5 1.8"/>
<path d="M340.6 186.3 l1.5 1.8 l-1.5 1.8"/>
<path d="M328.2 185.5 a1.6 1.6 0 1 1 2.6 0 l-0.4 1.5 h-1.8 z" stroke-width="0.6"/>
<path d="M328.8 188 h1.6" stroke-width="0.5"/>
<path d="M329.6 181.5 v1 M325.8 184 l0.8 0.6 M333.4 184 l-0.8 0.6" stroke-width="0.5"/>
</g>
<g fill="none" stroke="#2a2a2a" stroke-width="0.6">
<path d="M330.5 178.2 l1 -3.2 h2"/>
<path d="M327.5 203.2 l1.8 -2.2 l0.6 1.2 l1 -2"/>
</g>
<!-- left boxes -->
<g fill="none" stroke="#2a2a2a" stroke-width="0.9">
<rect x="260.7" y="143.4" width="29.5" height="11"/>
<rect x="260.7" y="158.5" width="29.8" height="10.2"/>
<rect x="260.7" y="172.6" width="29.8" height="34"/>
<rect x="261.2" y="228.3" width="29.4" height="19"/>
<rect x="370.2" y="158.3" width="29.8" height="10.4"/>
<rect x="370.2" y="172.2" width="29.8" height="26.8"/>
<rect x="370.2" y="209.4" width="29.8" height="18.1"/>
<rect x="370.2" y="231.3" width="29.8" height="18.1"/>
</g>
<!-- connectors -->
<g fill="none" stroke="#1e1e1e" stroke-width="0.8">
<path d="M290.2 148.8 H316.5"/>
<path d="M290.5 163.4 H316"/>
<path d="M290.5 179.6 H304.7 V188.1 H316.5"/>
<path d="M290.5 202.3 H327"/>
<path d="M290.6 237.9 H299.6 V228.3 H316"/>
<path d="M333 176.2 H370.2" stroke-width="1.2"/>
<path d="M343 163.3 H370.2"/>
<path d="M342 188.1 H359.7 V193.2 H370.2"/>
<path d="M343.2 228.3 H359.7 V217.8 H370.2"/>
<path d="M334.7 240.2 H370.2"/>
</g>
<g fill="#111">
<circle cx="312.4" cy="148.8" r="1.3"/>
<circle cx="312.4" cy="163.4" r="1.3"/>
<circle cx="312.4" cy="188.1" r="1.4"/>
<circle cx="312.4" cy="228.3" r="1.4"/>
<circle cx="347.3" cy="163.3" r="1.3"/>
<circle cx="347.3" cy="188.1" r="1.4"/>
<circle cx="347.3" cy="228.3" r="1.4"/>
<circle cx="338.3" cy="240.2" r="1.1"/>
<path d="M333.5 175 l3 1.2 l-3 1.2 z"/>
<path d="M324.5 201.2 l3 1.1 l-3 1.1 z"/>
</g>
<g fill="#111" stroke="#111" stroke-width="0.12" font-size="3.4" text-rendering="geometricPrecision">
<text x="275.5" y="150.2" text-anchor="middle" textLength="20" lengthAdjust="spacingAndGlyphs">Ночной свет</text>
<text x="275.6" y="164.9" text-anchor="middle" textLength="19.5" lengthAdjust="spacingAndGlyphs">ВКЛЮЧИТЬ</text>
<text x="275.6" y="188.6" text-anchor="middle" textLength="18" lengthAdjust="spacingAndGlyphs">Уменьшить</text>
<text x="275.6" y="193.6" text-anchor="middle" textLength="12" lengthAdjust="spacingAndGlyphs">яркость</text>
<text x="275.9" y="233.8" text-anchor="middle" textLength="12" lengthAdjust="spacingAndGlyphs">Сделать</text>
<text x="275.9" y="238" text-anchor="middle" textLength="6" lengthAdjust="spacingAndGlyphs">свет</text>
<text x="275.9" y="243" text-anchor="middle" textLength="9.5" lengthAdjust="spacingAndGlyphs">теплее</text>
<text x="385.1" y="164.6" text-anchor="middle" textLength="22.5" lengthAdjust="spacingAndGlyphs">ВЫКЛЮЧИТЬ</text>
<text x="385.1" y="184.4" text-anchor="middle" textLength="16.5" lengthAdjust="spacingAndGlyphs">Увеличить</text>
<text x="385.1" y="188.6" text-anchor="middle" textLength="12" lengthAdjust="spacingAndGlyphs">яркость</text>
<text x="385.1" y="215.2" text-anchor="middle" textLength="12" lengthAdjust="spacingAndGlyphs">Сделать</text>
<text x="385.1" y="219.6" text-anchor="middle" textLength="6" lengthAdjust="spacingAndGlyphs">свет</text>
<text x="385.1" y="224" text-anchor="middle" textLength="14.5" lengthAdjust="spacingAndGlyphs">холоднее</text>
<text x="385.1" y="237" text-anchor="middle" textLength="10" lengthAdjust="spacingAndGlyphs">3000К</text>
<text x="385.1" y="241.5" text-anchor="middle" textLength="10" lengthAdjust="spacingAndGlyphs">4000К</text>
<text x="385.1" y="246" text-anchor="middle" textLength="10" lengthAdjust="spacingAndGlyphs">6000К</text>
<text x="282.9" y="303.8" font-size="3.8" textLength="94.3" lengthAdjust="spacingAndGlyphs">Используйте две ААА батарейки для работы пульта</text>
</g>

<!-- ===== LAMP ===== -->
<g fill="none" stroke="#1e1e1e">
<!-- circled numbers -->
<g stroke-width="0.8" stroke="#111">
<circle cx="464.9" cy="134.4" r="3.4"/>
<circle cx="464.9" cy="141.7" r="3.4"/>
<circle cx="464.9" cy="149.4" r="3.4"/>
<circle cx="473.1" cy="201.3" r="3.2"/>
<circle cx="537.2" cy="185" r="3.3"/>
</g>
<g stroke-width="0.75" stroke="#111">
<path d="M468.3 134.4 H485.5"/>
<path d="M468.3 141.7 H481"/>
<path d="M468.3 149.4 H482 q1.5 0 3 -1.5 l1.5 -1.2"/>
</g>
<!-- bracket & screws -->
<path d="M483.3 139.6 H512.8" stroke-width="2.7" stroke="#111"/>
<path d="M487.5 139.6 H494 M496 139.6 H502 M504 139.6 H509" stroke="#ddd" stroke-width="0.7"/>
<path d="M484.6 140.5 v3.8 M511.6 140.5 v3.8" stroke-width="1.2"/>
<path d="M489.5 132.8 v4 M506.5 132.8 v4 M489.5 145 v2.8 M506.5 145 v3.2" stroke-width="1.2"/>
<!-- cable from bracket to canopy -->
<path d="M496.5 141 q-2.5 5 -0.5 8.5 q1.5 1.5 4 2.5" stroke-width="1"/>
<path d="M500 151.5 l4 2" stroke-width="2.4"/>
<path d="M504 153.5 q1.5 1.5 1 4.5" stroke-width="1"/>
<!-- canopy -->
<ellipse cx="496.4" cy="163.6" rx="16.1" ry="6.2" stroke-width="1.1"/>
<path d="M480.3 163.6 V170 A16.1 8.5 0 0 0 512.5 170 V163.6" stroke-width="1.1"/>
<g stroke-width="0.6">
<circle cx="489.5" cy="167.5" r="1.1"/>
<circle cx="496.2" cy="171.5" r="1.1"/>
<circle cx="503" cy="174.5" r="1.1"/>
</g>
<g fill="#111" stroke="none">
<circle cx="485" cy="161.5" r="1.2"/>
<rect x="486.2" y="174.5" width="2.4" height="2.6"/>
<rect x="490" y="172.8" width="2.4" height="2.6"/>
<rect x="503.3" y="171.8" width="2.2" height="2.4"/>
<rect x="508.5" y="172" width="2.2" height="2.4"/>
</g>
<!-- cables -->
<g stroke-width="0.8">
<path d="M487.3 176.4 L461.8 270"/>
<path d="M491 175 L472.8 284.7"/>
<path d="M494.1 166 L487.3 252.6"/>
<path d="M504.4 173.5 L525.6 259.2"/>
<path d="M509.6 173.5 L533.5 231"/>
</g>
<!-- big ring -->
<g stroke="#151515">
<ellipse cx="496.6" cy="249.6" rx="52.8" ry="27.8" stroke-width="1.1"/>
<path d="M443.8 253.2 A52.8 27.8 0 0 0 549.4 253.2" stroke-width="1.2"/>
<path d="M443.8 249.6 V253.2 M549.4 249.6 V253.2" stroke-width="1"/>
<ellipse cx="496.6" cy="251" rx="48.5" ry="22.8" stroke-width="1.1"/>
<path d="M448.1 253.2 A48.5 22.8 0 0 1 545.1 253.2" stroke-width="0.9"/>
</g>
<!-- small ring -->
<g stroke="#151515">
<ellipse cx="496" cy="272.1" rx="35.5" ry="19.6" stroke-width="1.1"/>
<path d="M460.5 278.8 A35.5 19.6 0 0 0 531.5 278.8" stroke-width="1.2"/>
<path d="M460.5 272.1 V278.8 M531.5 272.1 V278.8" stroke-width="1"/>
<ellipse cx="496" cy="271.4" rx="33.5" ry="13.7" stroke-width="1"/>
<path d="M462.5 273.2 A33.5 13.7 0 0 1 529.5 273.2" stroke-width="0.9"/>
<path d="M462.5 273.2 A33.5 13.7 0 0 0 529.5 273.2" stroke-width="0.9"/>
</g>
<!-- dims -->
<path d="M433.4 161 V297" stroke-width="0.8"/>
<path d="M451.5 313 H547.5" stroke-width="0.8"/>
<path d="M466.7 187.5 V217.6" stroke-width="0.8"/>
<path d="M549.1 188 V206 M549.1 216.4 V234.5" stroke-width="0.8"/>
</g>
<g fill="#1e1e1e">
<path d="M433.4 159 l-1.3 3.6 h2.6 z"/>
<path d="M433.4 299 l-1.3 -3.6 h2.6 z"/>
<path d="M449.8 313 l3.6 -1.3 v2.6 z"/>
<path d="M549.2 313 l-3.6 -1.3 v2.6 z"/>
<path d="M466.7 185.8 l-1 3 h2 z"/>
<path d="M549.1 186 l-1 3 h2 z"/>
<path d="M549.1 236.4 l-1 -3 h2 z"/>
<path d="M488 134.4 l-3 -1.1 v2.2 z"/>
<path d="M483.2 141.7 l-3 -1.1 v2.2 z"/>
<path d="M488.4 145.4 l-2.9 0.6 l1.3 1.9 z"/>
</g>
<!-- hand -->
<g fill="none" stroke="#1e1e1e" stroke-width="0.75" stroke-linecap="round">
<path d="M523 186.8 Q521 190.5 521.8 194.5 Q523 197.5 527 198.5 L533.5 201.2"/>
<path d="M523 186.8 L527.3 186.6 L530.8 190.2 Q534.3 192.2 536 196.3"/>
<path d="M525.2 188.2 Q524.6 192 526 194.2 Q528 195.2 528.6 192.6 L527.6 188.2"/>
<path d="M527.8 187 L531.2 190.6" stroke-width="1.4"/>
</g>
<rect x="524.1" y="180.8" width="4" height="3" fill="#111"/>
<g fill="#111" stroke="#111" stroke-width="0.2" font-size="4.3" text-anchor="middle" text-rendering="geometricPrecision">
<text x="464.9" y="136">1</text>
<text x="464.9" y="143.3">2</text>
<text x="464.9" y="151">3</text>
<text x="473.1" y="202.9" font-size="4">4</text>
<text x="537.2" y="186.6" font-size="4">5</text>
</g>
<g fill="#111" stroke="#111" stroke-width="0.12" text-rendering="geometricPrecision">
<text x="483.7" y="310.4" font-size="6.6" textLength="26.6" lengthAdjust="spacingAndGlyphs">Ø 60 cm</text>
<text transform="translate(430.3 270.4) rotate(-90)" x="0" y="0" font-size="6.6" textLength="78" lengthAdjust="spacingAndGlyphs">min 50 cm .. max 120 cm</text>
<g font-size="4.1">
<text x="555.2" y="209" textLength="45.5" lengthAdjust="spacingAndGlyphs">Длину подвеса можно</text>
<text x="555.2" y="214.6" textLength="51.3" lengthAdjust="spacingAndGlyphs">регулировать зажимами</text>
<text x="555.2" y="220" textLength="55.2" lengthAdjust="spacingAndGlyphs">на основании светильника.</text>
</g>
</g>

<!-- ===== STEPS TABLE ===== -->
<g fill="none" stroke="#1e1e1e">
<path d="M101.6 326.4 H376.4 V400.5 H101.6 Z" stroke-width="1" stroke="#333"/>
<path d="M101.7 326 V401" stroke-width="1.4" stroke="#000"/>
<path d="M160.4 326.4 V400.5 M219 326.4 V400.5 M297.6 326.4 V400.5" stroke-width="1"/>
</g>
<!-- hatched ceilings -->
<defs>
<pattern id="hatch" patternUnits="userSpaceOnUse" width="3.4" height="4" patternTransform="skewX(-40)">
<rect x="0" y="0" width="1.5" height="4" fill="#1a1a1a"/>
</pattern>
</defs>
<g>
<rect x="106.3" y="333.6" width="49.8" height="3.7" fill="url(#hatch)"/>
<path d="M106.3 333.3 H156.1" stroke="#333" stroke-width="0.6"/>
<path d="M106.3 337.4 H156.1" stroke="#111" stroke-width="0.8"/>
<rect x="313.1" y="330.3" width="50.3" height="3.6" fill="url(#hatch)"/>
<path d="M313.1 330 H363.4" stroke="#333" stroke-width="0.6"/>
<path d="M313.1 334 H363.4" stroke="#111" stroke-width="0.8"/>
</g>
<!-- drill -->
<g stroke="#1e1e1e" stroke-width="0.9" fill="#fff" stroke-linejoin="round">
<path d="M130.9 338.5 V346.2" stroke="#444" stroke-width="1.3"/>
<rect x="129.3" y="346" width="3.3" height="2.2" fill="#111" stroke="none"/>
<rect x="129.5" y="348.1" width="2.9" height="1.9" fill="#777" stroke="none"/>
<path d="M128.8 350.1 H133.9 V358.7 L130.6 362.1 L124.7 364.2 L118.5 365.6 L118.3 360.6 L123 359.4 L126.1 357 L126.8 355.8 L128.8 353.5 Z"/>
<path d="M128.6 353.3 q-2.6 0.2 -2.4 2.6" fill="none" stroke-width="0.8"/>
<path d="M124.5 364.3 L127.5 363.2" stroke-width="1.4"/>
</g>
<!-- dowels -->
<g stroke="#1e1e1e">
<ellipse cx="173.2" cy="334.2" rx="4.8" ry="1.5" fill="none" stroke-width="0.9"/>
<path d="M170.9 339.5 q2.3 -2.6 4.6 0 V348 h0.8 v1.2 h-0.8 V357.8 q-2.3 1.4 -4.6 0 V349.2 h-0.8 v-1.2 h0.8 z" fill="#fff" stroke-width="0.8"/>
<rect x="172.2" y="338.2" width="2" height="12" fill="#111" stroke="none"/>
<path d="M171.2 341.5 h1.2 M171.2 344 h1.2 M174.0 342.5 h1.2 M174.0 345 h1.2" stroke-width="0.6"/>
<path d="M170.9 357.8 q2.3 1.6 4.6 0" fill="none" stroke-width="1.4"/>
<ellipse cx="205.6" cy="334.2" rx="4.8" ry="1.5" fill="none" stroke-width="0.9"/>
<path d="M203.3 339.5 q2.3 -2.6 4.6 0 V348 h0.8 v1.2 h-0.8 V357.8 q-2.3 1.4 -4.6 0 V349.2 h-0.8 v-1.2 h0.8 z" fill="#fff" stroke-width="0.8"/>
<rect x="204.6" y="338.2" width="2" height="12" fill="#111" stroke="none"/>
<path d="M203.6 341.5 h1.2 M203.6 344 h1.2 M206.4 342.5 h1.2 M206.4 345 h1.2" stroke-width="0.6"/>
<path d="M203.3 357.8 q2.3 1.6 4.6 0" fill="none" stroke-width="1.4"/>
</g>
<!-- plate & screws -->
<g stroke="#1e1e1e" stroke-width="0.9">
<rect x="234.4" y="349" width="52.4" height="5.5" fill="#f0f0f0"/>
<path d="M241.7 339.5 v4 M279.2 339.5 v4" stroke-width="2.2"/>
<path d="M240 341.2 l1.7 -3.6 l1.7 3.6 z M277.5 341.2 l1.7 -3.6 l1.7 3.6 z" fill="#111" stroke="none"/>
<rect x="240.6" y="343.4" width="2.2" height="5.4" fill="#999" stroke-width="0.6"/>
<rect x="278.1" y="343.4" width="2.2" height="5.4" fill="#fff" stroke-width="0.6"/>
<path d="M241.7 354.6 v6.4 M279.2 354.6 v6.4" stroke-width="2"/>
<path d="M239.9 361.3 h3.6 M277.4 361.3 h3.6" stroke-width="1.1"/>
</g>
<!-- wires -->
<g fill="none" stroke-width="1.4" stroke-linecap="round">
<path d="M333.1 334.5 C333.5 341 333 345 328 348 C324 350 322 353 321 356" stroke="#3b3fae"/>
<path d="M322.5 352.5 C326 352 327 356 328 360 C329 364 331 366 334 367" stroke="#3b3fae"/>
<path d="M344 334.5 C338 340 337 347 342 350 C346 352 350 352.5 353.5 355" stroke="#c66a44"/>
<path d="M352 353.8 C346 354 340 358 338.5 362 C338 365 339.5 368 340.8 369.5" stroke="#c66a44"/>
</g>
<g fill="#fff" stroke="#222" stroke-width="0.6">
<circle cx="320.6" cy="357.5" r="1.2"/>
<circle cx="355.2" cy="356.8" r="1.2"/>
</g>
<!-- table texts -->
<g fill="#111" stroke="#111" stroke-width="0.15" text-rendering="geometricPrecision">
<g font-size="4.6" font-weight="bold" stroke-width="0.2">
<text x="168.3" y="367.5" textLength="40.6" lengthAdjust="spacingAndGlyphs">Пластиковые дюбели</text>
</g>
<g font-size="3.6">
<text x="240" y="334.6" textLength="40" lengthAdjust="spacingAndGlyphs" font-weight="bold">Пластиковые дюбели</text>
<text x="252.4" y="367.4" font-size="4.6" textLength="15.8" lengthAdjust="spacingAndGlyphs">Шурупы</text>
<text x="106.5" y="376.6" textLength="48.4" lengthAdjust="spacingAndGlyphs">1.Просверлите отверстие</text>
<text x="106.5" y="381.8" textLength="33.8" lengthAdjust="spacingAndGlyphs">с помощью дрели.</text>
<text x="164" y="376.6" textLength="42.6" lengthAdjust="spacingAndGlyphs">2. Забейте пластиковые</text>
<text x="164" y="381.8" textLength="36.3" lengthAdjust="spacingAndGlyphs">дюбели в отверстия.</text>
<text x="223" y="376.5" textLength="65.9" lengthAdjust="spacingAndGlyphs">3. Закрепите установочную пластину</text>
<text x="223" y="381.3" textLength="70" lengthAdjust="spacingAndGlyphs">с помощью шурупов в подготовленные</text>
<text x="223" y="385.5" textLength="19.7" lengthAdjust="spacingAndGlyphs">отверстия.</text>
</g>
<g font-size="4.3">
<text x="301.4" y="376.2" textLength="61.7" lengthAdjust="spacingAndGlyphs">4. Подключите «фазу» и «ноль»</text>
<text x="301.4" y="381" textLength="54.9" lengthAdjust="spacingAndGlyphs">к клеммам трансформатора.</text>
<text x="301.4" y="385.8" textLength="65.2" lengthAdjust="spacingAndGlyphs">Обязательно подключите корпус к</text>
<text x="301.4" y="390.8" textLength="46.9" lengthAdjust="spacingAndGlyphs">заземляющему проводу.</text>
<text x="301.4" y="395.4" textLength="68.6" lengthAdjust="spacingAndGlyphs">(Если предусмотрено конструкцией)</text>
</g>
</g>
<!-- ===== ШАГИ ===== -->
<g fill="#111" text-rendering="geometricPrecision">
<text x="399" y="341.4" font-size="10.4" textLength="93.1" lengthAdjust="spacingAndGlyphs" stroke="#111" stroke-width="0.3">ШАГИ ПО УСТАНОВКЕ</text>
<g font-size="4.6" font-weight="bold">
<text x="399.6" y="352.9" textLength="4.5" lengthAdjust="spacingAndGlyphs">1.</text>
<text x="399.6" y="357.9" textLength="4.5" lengthAdjust="spacingAndGlyphs">2.</text>
<text x="399.6" y="365.1" textLength="4.5" lengthAdjust="spacingAndGlyphs">3.</text>
<text x="399.6" y="377.8" textLength="4.5" lengthAdjust="spacingAndGlyphs">4.</text>
<text x="400.5" y="391.3" textLength="4.5" lengthAdjust="spacingAndGlyphs">5.</text>
</g>
<g font-size="4.6" stroke="#111" stroke-width="0.12">
<text x="413.5" y="352.9" textLength="176.1" lengthAdjust="spacingAndGlyphs">Достаньте светильник из упаковки и установите его в такой последовательности:</text>
<text x="413.5" y="357.9" textLength="168.8" lengthAdjust="spacingAndGlyphs">После установки дюбелей  (1), закрепите крепежную скобу (2)  саморезами (3)</text>
<text x="413.5" y="365.1" textLength="154.3" lengthAdjust="spacingAndGlyphs">Подключите провода питания к проводам (клеммам) трансформатора.</text>
<text x="413.5" y="370.9" textLength="82.7" lengthAdjust="spacingAndGlyphs">Обычно это  синий  и коричневый провода.</text>
<text x="413.5" y="377.8" textLength="157.5" lengthAdjust="spacingAndGlyphs">Подвешивайте светильник  (4)  и соедините основание с монтажной скобой,</text>
<text x="414.6" y="384" textLength="106.8" lengthAdjust="spacingAndGlyphs">закрутите гайки  (5)  по часовой стрелке до упора.</text>
<text x="413.5" y="391.3" textLength="136.8" lengthAdjust="spacingAndGlyphs">Если вам нужна помощь по установке, пожалуйста обратитесь</text>
<text x="414.2" y="395.6" textLength="71" lengthAdjust="spacingAndGlyphs">к продавцу или к производителю.</text>
</g>
</g>

<!-- MAIN_CONTENT -->

<!-- ===== FOOTER ===== -->
<text x="302.8" y="462.5" font-size="12.8" textLength="95" lengthAdjust="spacingAndGlyphs" fill="#161616" stroke="#161616" stroke-width="0.5">www.lightstar.ru</text>
</svg>
</body></html>
